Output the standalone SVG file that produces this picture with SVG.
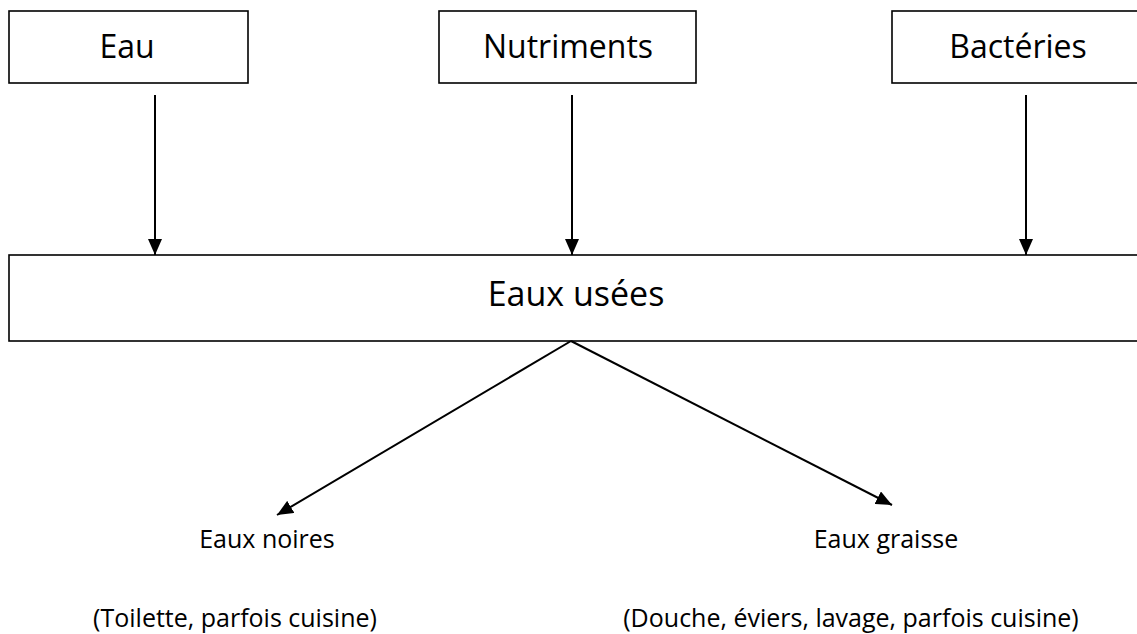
<svg xmlns="http://www.w3.org/2000/svg" width="1137" height="634" viewBox="0 0 1137 634">
  <style>
    .box { fill: #ffffff; stroke: #000000; stroke-width: 1.6; }
    .lbl { font-family: "Open Sans", "Noto Sans", sans-serif; fill: #000000; text-anchor: middle; }
    .top { font-size: 32px; }
    .main { font-size: 34px; }
    .sub { font-size: 25px; }
    .conn { stroke: #000000; stroke-width: 2; fill: none; marker-end: url(#arrow); }
  </style>
  <defs>
    <marker id="arrow" markerUnits="userSpaceOnUse" markerWidth="16" markerHeight="14" refX="16" refY="7" orient="auto" viewBox="0 0 16 14">
      <path d="M0,0 L16,7 L0,14 z" fill="#000000"/>
    </marker>
  </defs>
  <rect width="1137" height="634" fill="#ffffff"/>
  <g id="node-eau">
    <rect class="box" x="9" y="11" width="239" height="72"/>
    <text class="lbl top" x="127" y="58">Eau</text>
  </g>
  <g id="node-nutriments">
    <rect class="box" x="439" y="11" width="257" height="72"/>
    <text class="lbl top" x="568" y="58">Nutriments</text>
  </g>
  <g id="node-bacteries">
    <rect class="box" x="892" y="11" width="260" height="72"/>
    <text class="lbl top" x="1018" y="58">Bactéries</text>
  </g>
  <g id="node-eaux-usees">
    <rect class="box" x="9" y="255" width="1140" height="86"/>
    <text class="lbl main" x="576" y="306">Eaux usées</text>
  </g>
  <g id="node-eaux-noires">
    <text class="lbl sub" x="267" y="548">Eaux noires</text>
    <text class="lbl sub" x="235" y="627">(Toilette, parfois cuisine)</text>
  </g>
  <g id="node-eaux-graisse">
    <text class="lbl sub" x="886" y="548">Eaux graisse</text>
    <text class="lbl sub" x="851" y="627">(Douche, éviers, lavage, parfois cuisine)</text>
  </g>
  <g id="connectors">
    <line class="conn" x1="155" y1="95" x2="155" y2="255"/>
    <line class="conn" x1="572" y1="95" x2="572" y2="255"/>
    <line class="conn" x1="1026" y1="95" x2="1026" y2="255"/>
    <line class="conn" x1="571" y1="341" x2="277" y2="515"/>
    <line class="conn" x1="571" y1="341" x2="892" y2="505"/>
  </g>
</svg>
